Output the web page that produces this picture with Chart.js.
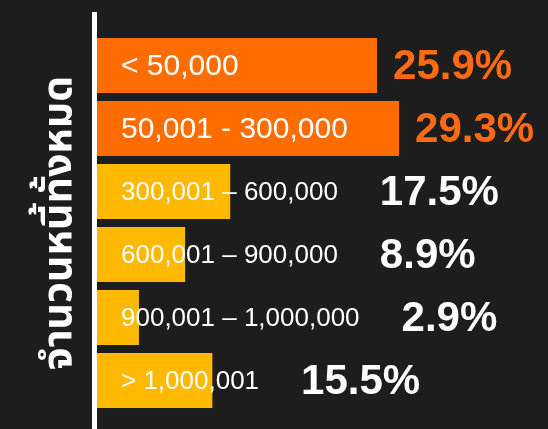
<!DOCTYPE html>
<html lang="th">
<head>
    <meta charset="UTF-8">
    <title>จำนวนหนี้ทั้งหมด</title>
    <script src="https://cdn.jsdelivr.net/npm/chart.js"></script>
    <style>
        html, body {
            margin: 0;
            padding: 0;
            background-color: #1d1d1d;
        }
        .chart-container {
            width: 548px;
            height: 429px;
        }
    </style>
</head>
<body>
    <div class="chart-container">
        <canvas id="debtChart"></canvas>
    </div>

    <script>
        // ช่วงยอดหนี้ (บาท)
        const categories = ['< 50,000', '50,001 - 300,000', '300,001 – 600,000', '600,001 – 900,000', '900,001 – 1,000,000', '> 1,000,001'];
        // สัดส่วน (%) ที่เขียนไว้ข้างแท่ง
        const shares = [25.9, 29.3, 17.5, 8.9, 2.9, 15.5];
        // ความยาวแท่งตามที่เห็นในภาพ
        const barLengths = [26.7, 28.8, 12.7, 8.4, 4.0, 11.0];
        const axisTitle = 'จำนวนหนี้ทั้งหมด';

        const ORANGE = '#ff6d00';
        const YELLOW = '#ffb900';
        const barColors = categories.map((c, i) => i < 2 ? ORANGE : YELLOW);
        const shareColors = categories.map((c, i) => i < 2 ? '#ff6a13' : '#ffffff');

        // วาดข้อความในแท่ง + เปอร์เซ็นต์ และเส้นแกนสีขาว
        const labelPlugin = {
            id: 'labelPlugin',
            afterDatasetsDraw(chart) {
                const ctx = chart.ctx;
                const area = chart.chartArea;
                const bars = chart.getDatasetMeta(0).data;

                ctx.save();
                ctx.strokeStyle = '#ffffff';
                ctx.lineWidth = 5;
                ctx.beginPath();
                ctx.moveTo(area.left - 2.5, area.top - 22);
                ctx.lineTo(area.left - 2.5, chart.height);
                ctx.stroke();

                ctx.textBaseline = 'middle';
                ctx.textAlign = 'left';
                bars.forEach((bar, i) => {
                    const big = i < 2;
                    ctx.font = (big ? '30px' : '26px') + ' "Liberation Sans", Arial, sans-serif';
                    ctx.fillStyle = '#ffffff';
                    const lx = area.left + 24;
                    ctx.fillText(categories[i], lx, bar.y + 1);
                    const labelEnd = lx + ctx.measureText(categories[i]).width;

                    const px = bar.x > labelEnd ? bar.x + 16 : labelEnd + 42;
                    ctx.font = 'bold 42px "Liberation Sans", Arial, sans-serif';
                    ctx.fillStyle = shareColors[i];
                    ctx.fillText(shares[i].toFixed(1) + '%', px, bar.y + 2);
                });
                ctx.restore();
            }
        };

        const ctx = document.getElementById('debtChart').getContext('2d');
        const debtChart = new Chart(ctx, {
            type: 'bar',
            data: {
                labels: categories,
                datasets: [{
                    data: barLengths,
                    backgroundColor: barColors,
                    borderWidth: 0,
                    categoryPercentage: 1,
                    barPercentage: 0.87
                }]
            },
            options: {
                indexAxis: 'y',
                responsive: true,
                maintainAspectRatio: false,
                animation: false,
                layout: {
                    padding: { top: 34, bottom: 17, left: 0, right: 0 }
                },
                plugins: {
                    legend: { display: false },
                    tooltip: { enabled: false }
                },
                scales: {
                    x: {
                        display: false,
                        min: 0,
                        max: 43
                    },
                    y: {
                        grid: { display: false, drawTicks: false },
                        border: { display: false },
                        ticks: { display: false },
                        title: {
                            display: true,
                            text: axisTitle,
                            color: '#ffffff',
                            font: { family: '"Noto Sans Thai", "Noto Sans", sans-serif', size: 41, weight: 'bold' },
                            padding: { top: 38, bottom: 0 }
                        },
                        afterFit(scale) {
                            scale.width = 97;
                        }
                    }
                }
            },
            plugins: [labelPlugin, {
                id: 'bg',
                beforeDraw(chart) {
                    const c = chart.ctx;
                    c.save();
                    c.fillStyle = '#1d1d1d';
                    c.fillRect(0, 0, chart.width, chart.height);
                    c.restore();
                }
            }]
        });
    </script>
</body>
</html>
